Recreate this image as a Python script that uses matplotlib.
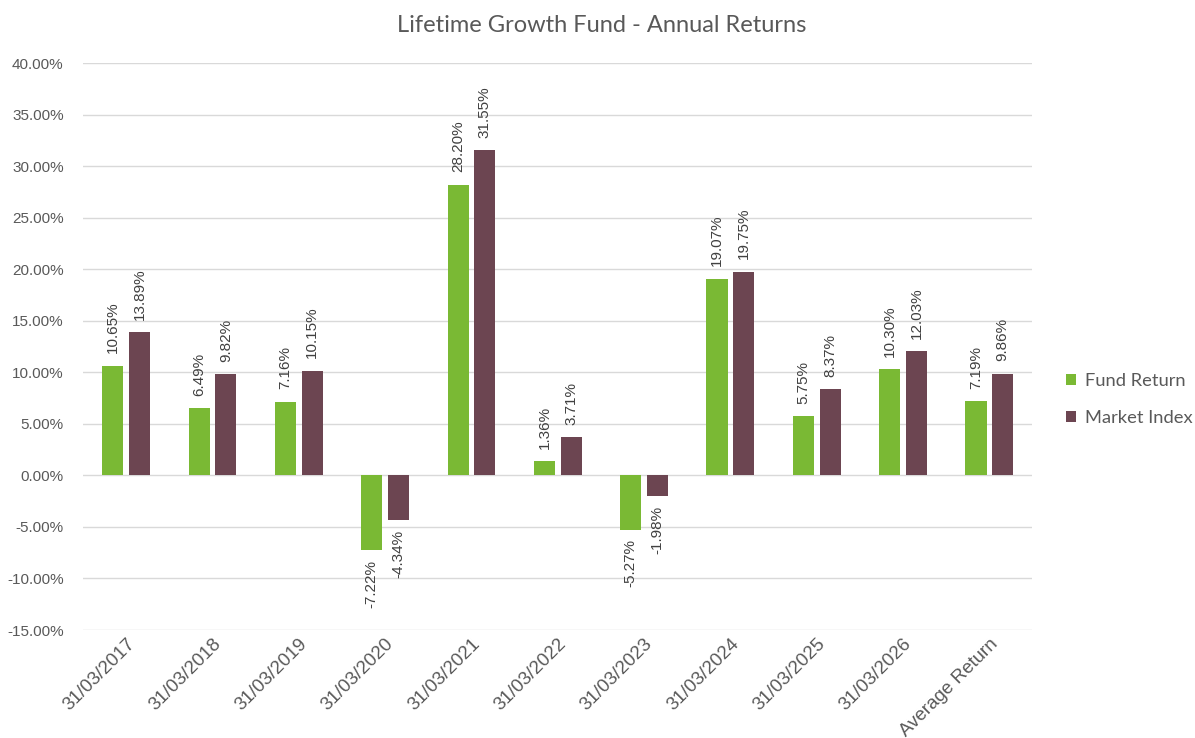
import matplotlib.pyplot as plt
import numpy as np
from matplotlib.ticker import FuncFormatter
from matplotlib.transforms import ScaledTranslation

categories = ["31/03/2017", "31/03/2018", "31/03/2019", "31/03/2020", "31/03/2021",
              "31/03/2022", "31/03/2023", "31/03/2024", "31/03/2025", "31/03/2026",
              "Average Return"]
fund_return = [10.65, 6.49, 7.16, -7.22, 28.20, 1.36, -5.27, 19.07, 5.75, 10.30, 7.19]
market_index = [13.89, 9.82, 10.15, -4.34, 31.55, 3.71, -1.98, 19.75, 8.37, 12.03, 9.86]

GREEN = "#7AB934"
MAROON = "#6C4551"
TXT = "#595959"

fig = plt.figure(figsize=(11.95, 7.38), dpi=100)
ax = fig.add_axes([0.0695, 0.1463, 0.7945, 0.7683])

x = np.arange(len(categories))
w = 0.245
off = 0.155
b1 = ax.bar(x - off, fund_return, w, color=GREEN, label="Fund Return", zorder=3)
b2 = ax.bar(x + off, market_index, w, color=MAROON, label="Market Index", zorder=3)

# value labels, rotated, outside the bar end
for bars, vals in ((b1, fund_return), (b2, market_index)):
    for bar, v in zip(bars, vals):
        cx = bar.get_x() + bar.get_width() / 2
        if v >= 0:
            ax.annotate(f"{v:.2f}%", (cx, v), xytext=(0, 9), textcoords="offset points",
                        rotation=90, ha="center", va="bottom", fontsize=11,
                        color="#404040", family="Liberation Sans")
        else:
            ax.annotate(f"{v:.2f}%", (cx, v), xytext=(0, -7), textcoords="offset points",
                        rotation=90, ha="center", va="top", fontsize=11,
                        color="#404040", family="Liberation Sans")

ax.set_xlim(-0.5, len(categories) - 0.5)
ax.set_ylim(-15, 40)
ax.set_yticks(np.arange(-15, 41, 5))
ax.yaxis.set_major_formatter(FuncFormatter(lambda v, p: f"{v:.2f}%"))
ax.set_xticks(x)
ax.set_xticklabels(categories, rotation=45, ha="right", rotation_mode="anchor",
                   fontsize=13.5, color=TXT, family="Liberation Sans")
shift = ScaledTranslation(-3 / 72, 0, fig.dpi_scale_trans)
for lab in ax.get_xticklabels():
    lab.set_transform(lab.get_transform() + shift)
for lab in ax.get_yticklabels():
    lab.set_family("Liberation Sans")
    lab.set_fontsize(11)
    lab.set_color(TXT)
ax.tick_params(axis="y", length=0, pad=14)
ax.tick_params(axis="x", length=0, pad=4)
ax.grid(axis="y", color="#D9D9D9", linewidth=1, zorder=0)
for s in ax.spines.values():
    s.set_visible(False)

fig.text(602 / 1195, 1 - 25 / 738, "Lifetime Growth Fund - Annual Returns",
         fontsize=17, color=TXT, family="Lato", ha="center", va="center")

ax.legend(loc="center left", bbox_to_anchor=(1.035, 0.407), frameon=False,
          borderaxespad=0, borderpad=0,
          prop={"family": "Lato", "size": 13.2}, labelcolor=TXT,
          handlelength=0.55, handleheight=0.55, handletextpad=0.5, labelspacing=1.17)

fig.savefig("out.png", dpi=100, facecolor="white")
